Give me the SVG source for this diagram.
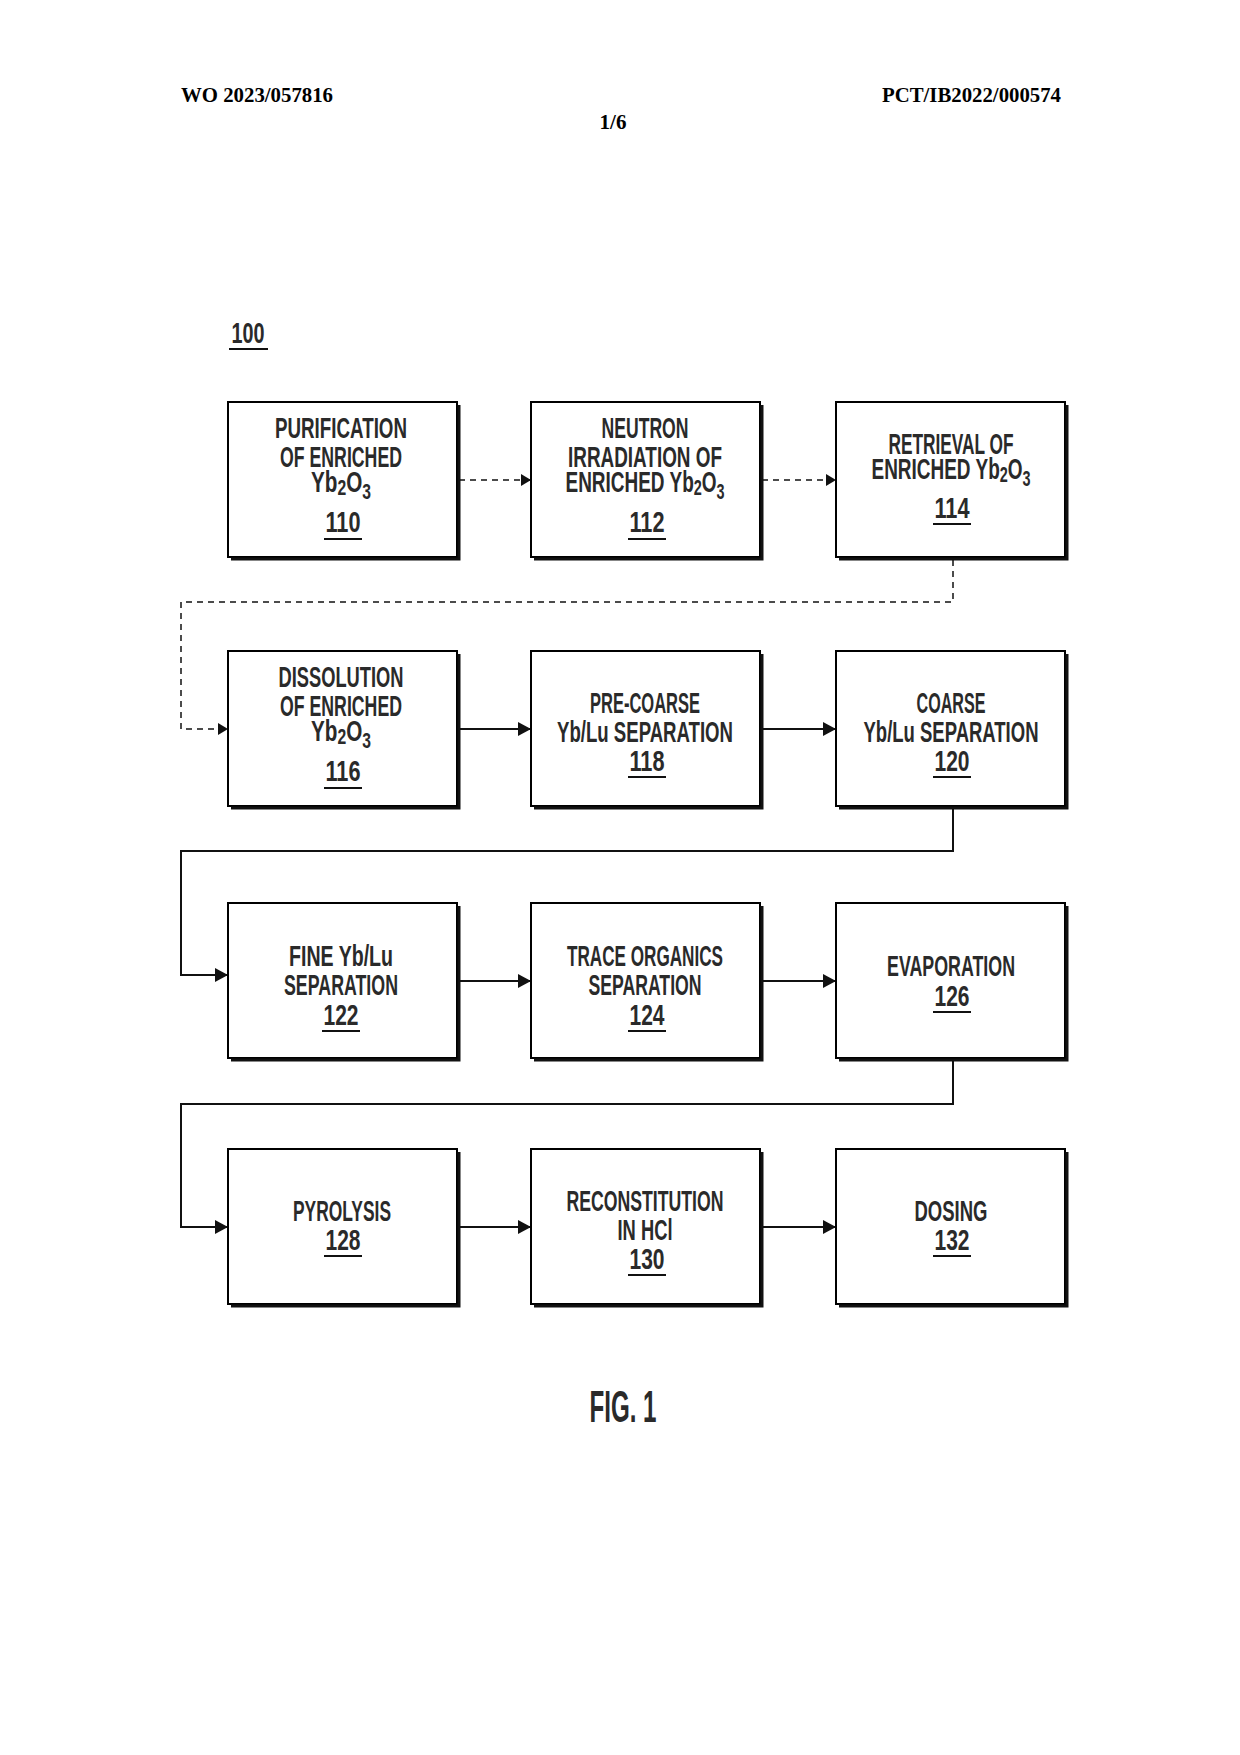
<svg xmlns="http://www.w3.org/2000/svg" width="1240" height="1755" viewBox="0 0 1240 1755">
<style>
.bg{fill:#fff}
.box{fill:#fff;stroke:#000;stroke-width:2}
.sh{fill:none;stroke:#111;stroke-width:3}
.t{font-family:"Liberation Sans",Arial,sans-serif;font-size:29px;font-weight:bold;fill:#2a2a2a;text-anchor:middle}
.sub{font-size:22px}
.u{stroke:#111;stroke-width:2}
.hd{font-family:"Liberation Serif","Times New Roman",serif;font-weight:bold;font-size:21px;fill:#000}
.dash{fill:none;stroke:#111;stroke-width:1.5;stroke-dasharray:6 5}
.sol{fill:none;stroke:#111;stroke-width:2}
</style>
<defs>
<marker id="ad" markerUnits="userSpaceOnUse" markerWidth="10" markerHeight="12" refX="10" refY="6" orient="auto"><path d="M0,0 L10,6 L0,12 Z" fill="#111"/></marker>
<marker id="as" markerUnits="userSpaceOnUse" markerWidth="13" markerHeight="14" refX="13" refY="7" orient="auto"><path d="M0,0 L13,7 L0,14 Z" fill="#111"/></marker>
</defs>
<rect class="bg" x="0" y="0" width="1240" height="1755"/>

<g id="header">
<text class="hd" x="181" y="102" textLength="152" lengthAdjust="spacingAndGlyphs">WO 2023/057816</text>
<text class="hd" x="1061" y="102" text-anchor="end" textLength="179" lengthAdjust="spacingAndGlyphs">PCT/IB2022/000574</text>
<text class="hd" x="613" y="129" text-anchor="middle">1/6</text>
</g>

<g id="label100">
<text class="t" x="248" y="343" textLength="33" lengthAdjust="spacingAndGlyphs">100</text>
<line class="u" x1="229" y1="349" x2="268" y2="349"/>
</g>

<g id="connectors">
<path class="dash" d="M459 480 H531" marker-end="url(#ad)"/>
<path class="dash" d="M762 480 H836" marker-end="url(#ad)"/>
<path class="dash" d="M953 560 V602 H181 V729 H228" marker-end="url(#ad)"/>
<path class="sol" d="M459 729 H531" marker-end="url(#as)"/>
<path class="sol" d="M762 729 H836" marker-end="url(#as)"/>
<path class="sol" d="M953 809 V851 H181 V975 H228" marker-end="url(#as)"/>
<path class="sol" d="M459 981 H531" marker-end="url(#as)"/>
<path class="sol" d="M762 981 H836" marker-end="url(#as)"/>
<path class="sol" d="M953 1061 V1104 H181 V1227 H228" marker-end="url(#as)"/>
<path class="sol" d="M459 1227 H531" marker-end="url(#as)"/>
<path class="sol" d="M762 1227 H836" marker-end="url(#as)"/>
</g>

<g id="n110">
<rect class="box" x="228" y="402" width="229" height="155"/>
<polyline class="sh" points="231,559 459,559 459,405"/>
<text class="t" x="341" y="438" textLength="132" lengthAdjust="spacingAndGlyphs">PURIFICATION</text>
<text class="t" x="341" y="467" textLength="122" lengthAdjust="spacingAndGlyphs">OF ENRICHED</text>
<text class="t" x="341" y="492" textLength="60" lengthAdjust="spacingAndGlyphs">Yb<tspan class="sub" dy="3">2</tspan><tspan dy="-3">O</tspan><tspan class="sub" dy="7">3</tspan></text>
<text class="t" x="343" y="532" textLength="35" lengthAdjust="spacingAndGlyphs">110</text>
<line class="u" x1="324" y1="539" x2="362" y2="539"/>
</g>

<g id="n112">
<rect class="box" x="531" y="402" width="229" height="155"/>
<polyline class="sh" points="534,559 762,559 762,405"/>
<text class="t" x="645" y="438" textLength="87" lengthAdjust="spacingAndGlyphs">NEUTRON</text>
<text class="t" x="645" y="467" textLength="154" lengthAdjust="spacingAndGlyphs">IRRADIATION OF</text>
<text class="t" x="645" y="492" textLength="159" lengthAdjust="spacingAndGlyphs">ENRICHED Yb<tspan class="sub" dy="3">2</tspan><tspan dy="-3">O</tspan><tspan class="sub" dy="7">3</tspan></text>
<text class="t" x="647" y="532" textLength="35" lengthAdjust="spacingAndGlyphs">112</text>
<line class="u" x1="628" y1="539" x2="666" y2="539"/>
</g>

<g id="n114">
<rect class="box" x="836" y="402" width="229" height="155"/>
<polyline class="sh" points="839,559 1067,559 1067,405"/>
<text class="t" x="951" y="454" textLength="125" lengthAdjust="spacingAndGlyphs">RETRIEVAL OF</text>
<text class="t" x="951" y="479" textLength="159" lengthAdjust="spacingAndGlyphs">ENRICHED Yb<tspan class="sub" dy="3">2</tspan><tspan dy="-3">O</tspan><tspan class="sub" dy="7">3</tspan></text>
<text class="t" x="952" y="518" textLength="35" lengthAdjust="spacingAndGlyphs">114</text>
<line class="u" x1="933" y1="524" x2="971" y2="524"/>
</g>

<g id="n116">
<rect class="box" x="228" y="651" width="229" height="155"/>
<polyline class="sh" points="231,808 459,808 459,654"/>
<text class="t" x="341" y="687" textLength="125" lengthAdjust="spacingAndGlyphs">DISSOLUTION</text>
<text class="t" x="341" y="716" textLength="122" lengthAdjust="spacingAndGlyphs">OF ENRICHED</text>
<text class="t" x="341" y="741" textLength="60" lengthAdjust="spacingAndGlyphs">Yb<tspan class="sub" dy="3">2</tspan><tspan dy="-3">O</tspan><tspan class="sub" dy="7">3</tspan></text>
<text class="t" x="343" y="781" textLength="35" lengthAdjust="spacingAndGlyphs">116</text>
<line class="u" x1="324" y1="788" x2="362" y2="788"/>
</g>

<g id="n118">
<rect class="box" x="531" y="651" width="229" height="155"/>
<polyline class="sh" points="534,808 762,808 762,654"/>
<text class="t" x="645" y="713" textLength="110" lengthAdjust="spacingAndGlyphs">PRE-COARSE</text>
<text class="t" x="645" y="742" textLength="176" lengthAdjust="spacingAndGlyphs">Yb/Lu SEPARATION</text>
<text class="t" x="647" y="771" textLength="35" lengthAdjust="spacingAndGlyphs">118</text>
<line class="u" x1="628" y1="777" x2="666" y2="777"/>
</g>

<g id="n120">
<rect class="box" x="836" y="651" width="229" height="155"/>
<polyline class="sh" points="839,808 1067,808 1067,654"/>
<text class="t" x="951" y="713" textLength="69" lengthAdjust="spacingAndGlyphs">COARSE</text>
<text class="t" x="951" y="742" textLength="175" lengthAdjust="spacingAndGlyphs">Yb/Lu SEPARATION</text>
<text class="t" x="952" y="771" textLength="35" lengthAdjust="spacingAndGlyphs">120</text>
<line class="u" x1="933" y1="777" x2="971" y2="777"/>
</g>

<g id="n122">
<rect class="box" x="228" y="903" width="229" height="155"/>
<polyline class="sh" points="231,1060 459,1060 459,906"/>
<text class="t" x="341" y="966" textLength="104" lengthAdjust="spacingAndGlyphs">FINE Yb/Lu</text>
<text class="t" x="341" y="995" textLength="114" lengthAdjust="spacingAndGlyphs">SEPARATION</text>
<text class="t" x="341" y="1025" textLength="35" lengthAdjust="spacingAndGlyphs">122</text>
<line class="u" x1="322" y1="1031" x2="360" y2="1031"/>
</g>

<g id="n124">
<rect class="box" x="531" y="903" width="229" height="155"/>
<polyline class="sh" points="534,1060 762,1060 762,906"/>
<text class="t" x="645" y="966" textLength="156" lengthAdjust="spacingAndGlyphs">TRACE ORGANICS</text>
<text class="t" x="645" y="995" textLength="113" lengthAdjust="spacingAndGlyphs">SEPARATION</text>
<text class="t" x="647" y="1025" textLength="35" lengthAdjust="spacingAndGlyphs">124</text>
<line class="u" x1="628" y1="1031" x2="666" y2="1031"/>
</g>

<g id="n126">
<rect class="box" x="836" y="903" width="229" height="155"/>
<polyline class="sh" points="839,1060 1067,1060 1067,906"/>
<text class="t" x="951" y="976" textLength="128" lengthAdjust="spacingAndGlyphs">EVAPORATION</text>
<text class="t" x="952" y="1006" textLength="35" lengthAdjust="spacingAndGlyphs">126</text>
<line class="u" x1="933" y1="1012" x2="971" y2="1012"/>
</g>

<g id="n128">
<rect class="box" x="228" y="1149" width="229" height="155"/>
<polyline class="sh" points="231,1306 459,1306 459,1152"/>
<text class="t" x="342" y="1221" textLength="98" lengthAdjust="spacingAndGlyphs">PYROLYSIS</text>
<text class="t" x="343" y="1250" textLength="35" lengthAdjust="spacingAndGlyphs">128</text>
<line class="u" x1="324" y1="1256" x2="362" y2="1256"/>
</g>

<g id="n130">
<rect class="box" x="531" y="1149" width="229" height="155"/>
<polyline class="sh" points="534,1306 762,1306 762,1152"/>
<text class="t" x="645" y="1211" textLength="157" lengthAdjust="spacingAndGlyphs">RECONSTITUTION</text>
<text class="t" x="645" y="1240" textLength="55" lengthAdjust="spacingAndGlyphs">IN HCl</text>
<text class="t" x="647" y="1269" textLength="35" lengthAdjust="spacingAndGlyphs">130</text>
<line class="u" x1="628" y1="1275" x2="666" y2="1275"/>
</g>

<g id="n132">
<rect class="box" x="836" y="1149" width="229" height="155"/>
<polyline class="sh" points="839,1306 1067,1306 1067,1152"/>
<text class="t" x="951" y="1221" textLength="73" lengthAdjust="spacingAndGlyphs">DOSING</text>
<text class="t" x="952" y="1250" textLength="35" lengthAdjust="spacingAndGlyphs">132</text>
<line class="u" x1="933" y1="1256" x2="971" y2="1256"/>
</g>

<g id="caption">
<text class="t" x="623" y="1422" style="font-size:45px" textLength="67" lengthAdjust="spacingAndGlyphs">FIG. 1</text>
</g>
</svg>
